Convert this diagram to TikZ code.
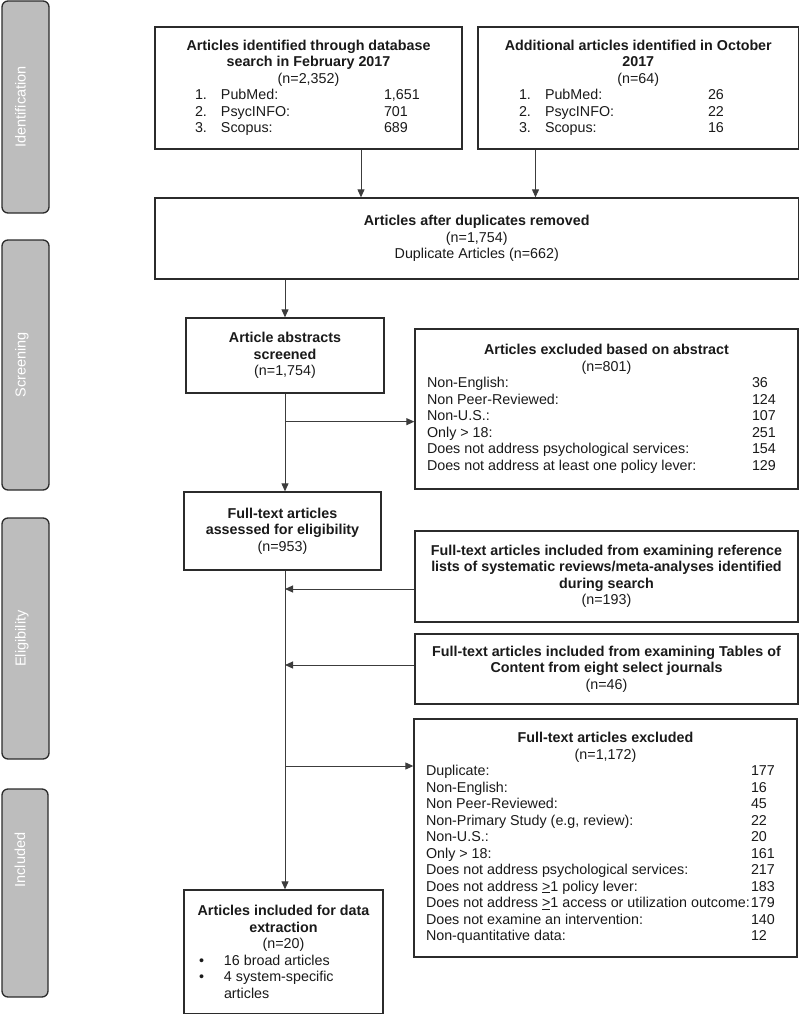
\documentclass[tikz,border=0pt]{standalone}
\usepackage{fontspec}
\setmainfont{Liberation Sans}
\usetikzlibrary{arrows.meta}
\definecolor{ink}{HTML}{1A1A1A}
\definecolor{rule}{HTML}{2B2B2B}
\definecolor{wire}{HTML}{3C3C3C}
\definecolor{phasegray}{HTML}{BDBDBD}

% list rows: number | source | count, reason | count, bullet | item
\newcommand{\srcrow}[4][40pt]{\makebox[26pt][l]{#2}\makebox[163pt][l]{#3}\makebox[#1][l]{#4}}
\newcommand{\exrow}[2]{\makebox[325pt][l]{#1}\makebox[34pt][l]{#2}}
\newcommand{\bulrow}[2]{\makebox[169pt][l]{\makebox[25pt][l]{#1}#2}}

\begin{document}
\begin{tikzpicture}[x=1pt,y=-1pt,>=Triangle,text=ink,
  box/.style={draw=rule,line width=1.3pt,fill=white,align=center,inner sep=0pt,
    font=\fontsize{14.3}{16.5}\selectfont},
  phase/.style={draw=rule,line width=1.3pt,fill=phasegray,rounded corners=6pt,inner sep=0pt},
  phasetext/.style={rotate=90,anchor=base,text=white,font=\fontsize{14.5}{17}\selectfont},
  flow/.style={-{Triangle[length=8pt,width=7pt]},line width=1pt,draw=wire}]

\useasboundingbox (0,0) rectangle (800,1015);

% phase bars
\node[phase,minimum width=47,minimum height=212] (pid) at (25.5,107) {};
\node[phase,minimum width=47,minimum height=250] (pscr) at (25.5,365) {};
\node[phase,minimum width=47,minimum height=241] (pelg) at (25.5,638.5) {};
\node[phase,minimum width=46,minimum height=208] (pinc) at (25,893) {};
\node[phasetext] at (pid.center) {Identification};
\node[phasetext] at (pscr.center) {Screening};
\node[phasetext] at (pelg.center) {Eligibility};
\node[phasetext] at ([yshift=33pt]pinc.center) {Included};

% identification
\node[box,minimum width=307,minimum height=122] (ident) at (308.5,88)
  {\textbf{Articles identified through database}\\\textbf{search in February 2017}\\(n=2,352)\\
   \srcrow[38pt]{1.}{PubMed:}{1,651}\\\srcrow[38pt]{2.}{PsycINFO:}{701}\\\srcrow[38pt]{3.}{Scopus:}{689}};
\node[box,minimum width=320.5,minimum height=122] (addl) at (638.25,88)
  {\textbf{Additional articles identified in October}\\\textbf{2017}\\(n=64)\\
   \srcrow[49.5pt]{1.}{PubMed:}{26}\\\srcrow[49.5pt]{2.}{PsycINFO:}{22}\\\srcrow[49.5pt]{3.}{Scopus:}{16}};
\node[box,minimum width=643.5,minimum height=81] (dup) at (476.75,238.5)
  {\textbf{Articles after duplicates removed}\\(n=1,754)\\Duplicate Articles (n=662)};

% screening
\node[box,minimum width=198,minimum height=75] (abs) at (285,355.5)
  {\textbf{Article abstracts}\\\textbf{screened}\\(n=1,754)};
\node[box,minimum width=383,minimum height=160] (exabs) at (606.5,409)
  {\textbf{Articles excluded based on abstract}\\(n=801)\\
   \exrow{Non-English:}{36}\\
   \exrow{Non Peer-Reviewed:}{124}\\
   \exrow{Non-U.S.:}{107}\\
   \exrow{Only > 18:}{251}\\
   \exrow{Does not address psychological services:}{154}\\
   \exrow{Does not address at least one policy lever:}{129}};

% eligibility
\node[box,minimum width=197,minimum height=78] (ftx) at (282.5,531)
  {\textbf{Full-text articles}\\\textbf{assessed for eligibility}\\(n=953)};
\node[box,minimum width=383,minimum height=91] (refl) at (606.5,576.5)
  {\textbf{Full-text articles included from examining reference}\\
   \textbf{lists of systematic reviews/meta-analyses identified}\\\textbf{during search}\\(n=193)};
\node[box,minimum width=383,minimum height=70] (toc) at (606.5,669)
  {\textbf{Full-text articles included from examining Tables of}\\
   \textbf{Content from eight select journals}\\(n=46)};
\node[box,minimum width=383,minimum height=238] (exftx) at (605.5,838)
  {\textbf{Full-text articles excluded}\\(n=1,172)\\
   \exrow{Duplicate:}{177}\\
   \exrow{Non-English:}{16}\\
   \exrow{Non Peer-Reviewed:}{45}\\
   \exrow{Non-Primary Study (e.g, review):}{22}\\
   \exrow{Non-U.S.:}{20}\\
   \exrow{Only > 18:}{161}\\
   \exrow{Does not address psychological services:}{217}\\
   \exrow{Does not address \underline{>}1 policy lever:}{183}\\
   \exrow{Does not address \underline{>}1 access or utilization outcome:}{179}\\
   \exrow{Does not examine an intervention:}{140}\\
   \exrow{Non-quantitative data:}{12}};

% included
\node[box,minimum width=199,minimum height=123.5] (incl) at (283.5,951.75)
  {\textbf{Articles included for data}\\\textbf{extraction}\\(n=20)\\
   \bulrow{\textbullet}{16 broad articles}\\\bulrow{\textbullet}{4 system-specific}\\\bulrow{}{articles}};

% connectors
\coordinate (a1) at (361,0);
\coordinate (a2) at (535.5,0);
\coordinate (trunk) at (285,0);
\draw[flow] (ident.south -| a1) -- (dup.north -| a1);
\draw[flow] (addl.south -| a2) -- (dup.north -| a2);
\draw[flow] (dup.south -| abs.north) -- (abs.north);
\draw[flow] (abs.south) -- (abs.south |- ftx.north);
\path (abs.south) ++(0,28) coordinate (b1);
\draw[flow] (b1) -- (b1 -| exabs.west);
\draw[flow] (trunk |- ftx.south) -- (trunk |- incl.north);
\draw[flow] ([yshift=-12.5pt]refl.west) -- ([yshift=-12.5pt]refl.west -| trunk);
\draw[flow] ([yshift=4pt]toc.west) -- ([yshift=4pt]toc.west -| trunk);
\draw[flow] ([yshift=72pt]exftx.west -| trunk) -- ([yshift=72pt]exftx.west);

\end{tikzpicture}
\end{document}
